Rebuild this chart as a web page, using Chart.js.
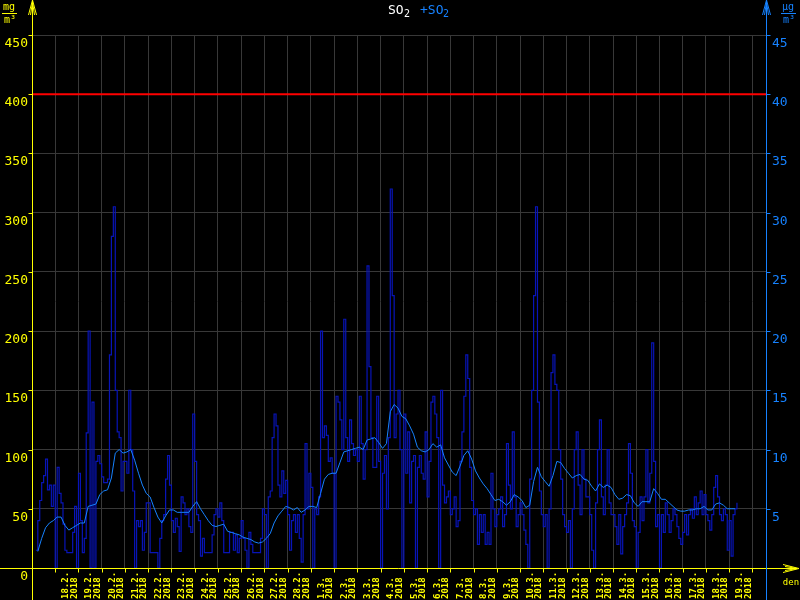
<!DOCTYPE html>
<html>
<head>
<meta charset="utf-8">
<title>SO2</title>
<script src="https://cdn.jsdelivr.net/npm/chart.js@4.4.1/dist/chart.umd.min.js"></script>
<style>
  html, body { margin: 0; padding: 0; background: #000; }
  canvas { display: block; }
</style>
</head>
<body>
<canvas id="so2Chart" width="800" height="600"></canvas>
<script>
// day labels under the x axis (17.2. has no label)
const dayLabels = ['18.2.', '19.2.', '20.2.', '21.2.', '22.2.', '23.2.', '24.2.', '25.2.', '26.2.', '27.2.', '28.2.',
    '1.3.', '2.3.', '3.3.', '4.3.', '5.3.', '6.3.', '7.3.', '8.3.', '9.3.', '10.3.', '11.3.', '12.3.', '13.3.',
    '14.3.', '15.3.', '16.3.', '17.3.', '18.3.', '19.3.'];
const yearLabel = '2018';
const leftTicks = [0, 50, 100, 150, 200, 250, 300, 350, 400, 450];
const rightTicks = [5, 10, 15, 20, 25, 30, 35, 40, 45];
const limitValue = 400;

// SO2 readings, one every 2 hours starting 17.2. 04:00 (µg/m3)
const sampleStart = 4;
const sampleStep = 2;
const so2Feb = [
    15, 40, 57, 72, 78, 92, 66, 70, 52, 70,
    0, 85, 63, 55, 37, 15, 13, 13, 13, 30, 52, 0,
    80, 40, 13, 25, 114, 200, 0, 140, 0, 90, 95, 88,
    77, 72, 72, 75, 180, 280, 305, 150, 115, 110, 65, 90,
    90, 80, 150, 100, 65, 0, 40, 35, 40, 15, 30, 55,
    55, 13, 13, 13, 13, 0, 25, 40, 45, 75, 95, 70,
    40, 30, 42, 35, 14, 60, 55, 45, 50, 35, 30, 130,
    90, 45, 40, 10, 25, 13, 13, 13, 13, 28, 45, 50,
    43, 55, 40, 13, 13, 13, 30, 30, 15, 28, 13, 25,
    40, 25, 15, 0, 30, 20, 13, 13, 13, 13, 25, 50,
    45, 0, 60, 65, 110, 130, 120, 70, 60, 82, 63, 74,
    45, 15, 40, 45, 30, 45, 25, 5, 45, 105, 50, 80
];
const so2Mar = [
    68, 0, 50, 45, 60, 200, 110, 120, 112, 90, 93, 80,
    0, 145, 140, 125, 100, 210, 110, 90, 125, 105, 95, 100,
    90, 145, 105, 75, 100, 255, 170, 110, 85, 85, 145, 90,
    0, 80, 95, 50, 110, 320, 230, 110, 130, 150, 100, 0,
    130, 80, 115, 55, 90, 95, 0, 85, 95, 80, 75, 115,
    60, 90, 140, 145, 130, 110, 0, 150, 70, 55, 60, 65,
    45, 50, 60, 35, 40, 90, 115, 145, 180, 160, 85, 57,
    45, 50, 20, 45, 30, 45, 20, 30, 20, 80, 50, 35,
    45, 50, 60, 35, 45, 105, 70, 50, 115, 60, 35, 45,
    55, 45, 32, 20, 0, 75, 150, 230, 305, 140, 65, 45,
    35, 45, 0, 50, 165, 180, 155, 150, 100, 75, 45, 35,
    30, 40, 0, 50, 100, 115, 70, 45, 100, 75, 60, 60,
    45, 15, 0, 55, 100, 125, 60, 45, 70, 100, 55, 45,
    45, 35, 20, 45, 12, 35, 45, 55, 105, 80, 40, 35,
    0, 30, 60, 40, 60, 100, 55, 80, 190, 90, 35, 45,
    0, 45, 30, 55, 45, 30, 40, 50, 45, 35, 25, 20,
    30, 45, 28, 45, 50, 42, 60, 45, 55, 65, 45, 62,
    45, 40, 32, 45, 68, 78, 60, 45, 40, 50, 45, 15,
    40, 10, 45, 50, 55
];

// running mean, one every 4 hours starting 17.2. 06:00
const meanStart = 6;
const meanStep = 4;
const so2Mean = [
    14, 25, 34, 38, 40, 43,
    43, 36, 32, 34, 36, 38,
    38, 52, 53, 54, 62, 65,
    66, 76, 97, 100, 97, 98,
    100, 91, 80, 70, 63, 60,
    51, 43, 38, 44, 49, 49,
    47, 47, 47, 47, 52, 56,
    50, 45, 40, 36, 35, 36,
    37, 31, 30, 29, 28, 26,
    25, 24, 22, 21, 22, 25,
    29, 38, 44, 48, 52, 51,
    49, 51, 47, 49, 52, 52,
    51, 63, 75, 79, 80, 80,
    89, 98, 99, 100, 101, 102,
    100, 108, 109, 110, 106, 101,
    105, 132, 138, 135, 128, 126,
    120, 113, 102, 99, 98, 100,
    105, 102, 104, 93, 87, 81,
    78, 86, 95, 99, 92, 82,
    76, 71, 67, 62, 57, 58,
    56, 53, 56, 62, 60, 57,
    51, 53, 73, 85, 77, 73,
    69, 78, 90, 89, 84, 80,
    76, 78, 79, 75, 74, 69,
    65, 71, 68, 70, 68, 62,
    58, 59, 62, 61, 55, 52,
    56, 56, 56, 67, 63, 58,
    58, 55, 52, 49, 48, 48,
    49, 49, 50, 50, 52, 49,
    49, 54, 55, 53, 50, 50,
    50
];

const YELLOW = '#ffff00';
const BLUE = '#1682ff';
const DARK = '#0814b8';
const GRID = '#383838';
const MONO = '"DejaVu Sans Mono", monospace';
const hourMax = 758;

const hourly = so2Feb.concat(so2Mar).map((v, i) => ({ x: sampleStart + i * sampleStep, y: v }));
const mean = so2Mean.map((v, i) => ({ x: meanStart + i * meanStep, y: v }));
const dayHours = dayLabels.map((d, i) => (i + 1) * 24);
const gridHours = [0].concat(dayHours, [(dayLabels.length + 1) * 24]);

function line(c, x1, y1, x2, y2) {
    c.beginPath();
    c.moveTo(x1, y1);
    c.lineTo(x2, y2);
    c.stroke();
}

function unit(c, top, cx, color) {
    c.fillStyle = color;
    c.strokeStyle = color;
    c.font = '10px ' + MONO;
    c.textAlign = 'center';
    c.textBaseline = 'alphabetic';
    c.fillText(top, cx, 10);
    line(c, cx - 7, 13.5, cx + 8, 13.5);
    c.fillText('m³', cx + 1, 23);
}

const frame = {
    id: 'frame',
    beforeDraw(chart) {
        const c = chart.ctx;
        c.save();
        c.fillStyle = '#000';
        c.fillRect(0, 0, chart.width, chart.height);
        c.restore();
    },
    afterDraw(chart) {
        const c = chart.ctx;
        const area = chart.chartArea;
        const sx = chart.scales.x, sy = chart.scales.y, sy2 = chart.scales.y2;
        const lx = Math.round(area.left) + 0.5;
        const rx = Math.round(area.right) + 0.5;
        const by = Math.round(area.bottom) + 0.5;
        c.save();
        c.lineWidth = 1;

        // left axis, x axis
        c.strokeStyle = YELLOW;
        line(c, lx, 0, lx, 600);
        line(c, 0, by, 797, by);
        line(c, lx, 0, lx - 4, 15);
        line(c, lx, 0, lx + 4, 15);
        line(c, lx, 2, lx - 2, 15);
        line(c, lx, 2, lx + 2, 15);
        line(c, 799, by, 783, by - 4);
        line(c, 799, by, 783, by + 4);
        line(c, 797, by, 785, by - 2);
        line(c, 797, by, 785, by + 2);

        c.fillStyle = YELLOW;
        c.font = '13px ' + MONO;
        c.textAlign = 'right';
        c.textBaseline = 'middle';
        leftTicks.forEach(v => {
            const py = Math.round(sy.getPixelForValue(v)) + 0.5;
            line(c, lx - 4, py, lx, py);
            c.fillText(String(v), 28, py + 8);
        });

        gridHours.forEach(h => {
            const px = Math.round(sx.getPixelForValue(h)) + 0.5;
            line(c, px, by, px, by + 4);
        });

        c.font = 'bold 9px ' + MONO;
        c.textAlign = 'left';
        dayLabels.forEach((d, i) => {
            const px = sx.getPixelForValue(dayHours[i]);
            c.save();
            c.translate(px + 10.5, 599);
            c.rotate(-Math.PI / 2);
            c.fillText(d, 0, 0);
            c.restore();
            c.save();
            c.translate(px + 19, 599);
            c.rotate(-Math.PI / 2);
            c.fillText(yearLabel, 0, 0);
            c.restore();
        });

        c.font = '9px ' + MONO;
        c.textAlign = 'center';
        c.textBaseline = 'alphabetic';
        c.fillText('den', 791, 585);
        unit(c, 'mg', 9, YELLOW);

        // right axis
        c.strokeStyle = BLUE;
        line(c, rx, 0, rx, 600);
        line(c, rx, 0, rx - 4, 15);
        line(c, rx, 0, rx + 4, 15);
        line(c, rx, 2, rx - 2, 15);
        line(c, rx, 2, rx + 2, 15);
        c.fillStyle = BLUE;
        c.font = '13px ' + MONO;
        c.textAlign = 'left';
        c.textBaseline = 'middle';
        rightTicks.forEach(v => {
            const py = Math.round(sy2.getPixelForValue(v)) + 0.5;
            line(c, rx, py, rx + 4, py);
            c.fillText(String(v), 772, py + 8);
        });
        unit(c, 'µg', 788, BLUE);

        // title
        c.textAlign = 'left';
        c.textBaseline = 'alphabetic';
        c.fillStyle = '#ffffff';
        c.font = '13px ' + MONO;
        c.fillText('SO', 388, 14);
        c.font = '10px ' + MONO;
        c.fillText('2', 404, 17);
        c.fillStyle = BLUE;
        c.font = '13px ' + MONO;
        c.fillText('+SO', 420, 14);
        c.font = '10px ' + MONO;
        c.fillText('2', 443, 17);
        c.restore();
    }
};

new Chart(document.getElementById('so2Chart'), {
    type: 'line',
    data: {
        datasets: [{
            label: 'limit',
            data: [{ x: 0, y: limitValue }, { x: hourMax, y: limitValue }],
            borderColor: '#ff0000',
            borderWidth: 2,
            pointRadius: 0
        }, {
            label: '+SO2',
            data: mean,
            borderColor: BLUE,
            borderWidth: 1,
            pointRadius: 0,
            tension: 0
        }, {
            label: 'SO2',
            data: hourly,
            borderColor: DARK,
            borderWidth: 1.2,
            pointRadius: 0,
            stepped: true
        }]
    },
    options: {
        responsive: false,
        animation: false,
        devicePixelRatio: 1,
        events: [],
        layout: {
            padding: { left: 32, right: 34, top: 35, bottom: 32 }
        },
        plugins: {
            legend: { display: false },
            tooltip: { enabled: false }
        },
        scales: {
            x: {
                type: 'linear',
                min: 0,
                max: hourMax,
                afterBuildTicks: s => { s.ticks = gridHours.map(v => ({ value: v })); },
                grid: { color: GRID, drawTicks: false },
                border: { display: false },
                ticks: { display: false }
            },
            y: {
                min: 0,
                max: 450,
                afterBuildTicks: s => { s.ticks = leftTicks.map(v => ({ value: v })); },
                grid: { color: GRID, drawTicks: false },
                border: { display: false },
                ticks: { display: false }
            },
            y2: {
                position: 'right',
                min: 0,
                max: 45,
                display: false
            }
        }
    },
    plugins: [frame]
});
</script>
</body>
</html>
